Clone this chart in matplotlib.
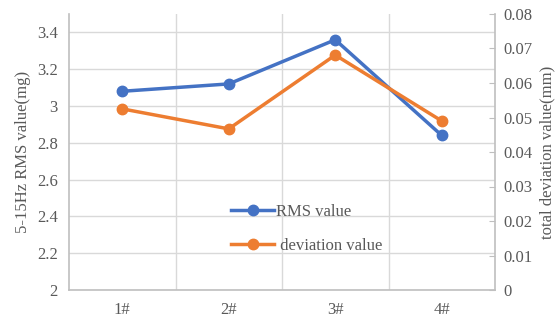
import numpy as np
import matplotlib.pyplot as plt

cats = ["1#", "2#", "3#", "4#"]
rms = [3.08, 3.12, 3.36, 2.84]
dev = [0.0525, 0.0467, 0.0681, 0.0490]
left_ticks = [2, 2.2, 2.4, 2.6, 2.8, 3, 3.2, 3.4]
left_labels = ["2", "2.2", "2.4", "2.6", "2.8", "3", "3.2", "3.4"]
right_ticks = [0, 0.01, 0.02, 0.03, 0.04, 0.05, 0.06, 0.07, 0.08]
right_labels = ["0", "0.01", "0.02", "0.03", "0.04", "0.05", "0.06", "0.07", "0.08"]

plt.rcParams['font.family'] = ['Liberation Serif', 'DejaVu Serif']
txt = '#595959'
grid = '#d9d9d9'
spine = '#bfbfbf'

fig = plt.figure(figsize=(5.58, 3.19), dpi=100)
ax = fig.add_axes([69/558, 1-290/319, (495-69)/558, (290-14)/319])
x = np.arange(len(cats))

ax.set_xlim(-0.5, 3.5)
ax.set_ylim(2, 3.5)
ax.set_yticks(left_ticks)
ax.set_yticklabels(left_labels)
ax.set_xticks(x)
ax.set_xticklabels(cats)
ax.tick_params(axis='both', length=0, colors=txt, labelsize=12, pad=8)
ax.tick_params(axis='x', pad=9)
for t in left_ticks:
    ax.axhline(t, color=grid, lw=1, zorder=0)
for v in [0.5, 1.5, 2.5]:
    ax.axvline(v, color=grid, lw=1, zorder=0)
for s in ['top', 'right']:
    ax.spines[s].set_visible(False)
for s in ['left', 'bottom']:
    ax.spines[s].set_color(spine)
    ax.spines[s].set_linewidth(1.2)
ax.set_ylabel("5-15Hz RMS value(mg)", color=txt, fontsize=12, labelpad=4)

l1, = ax.plot(x, rms, color='#4472c4', lw=2.5, marker='o', ms=7.5, zorder=3,
              label="RMS value")

ax2 = ax.twinx()
ax2.set_ylim(0, 0.08)
ax2.set_yticks(right_ticks)
ax2.set_yticklabels(right_labels)
ax2.tick_params(axis='y', direction='in', length=4, color=spine, colors=txt, labelsize=12, pad=6)
ax2.tick_params(axis='y', color=spine)
for s in ['top', 'left', 'bottom']:
    ax2.spines[s].set_visible(False)
ax2.spines['right'].set_color(spine)
ax2.spines['right'].set_linewidth(1.2)
ax2.set_ylabel("total deviation value(mm)", color=txt, fontsize=12, labelpad=5)
l2, = ax2.plot(x, dev, color='#ed7d31', lw=2.5, marker='o', ms=7.5, zorder=3,
               label=" deviation value")

leg = ax2.legend(handles=[l1, l2], loc='lower left', bbox_to_anchor=(0.345, 0.075),
                 frameon=False, fontsize=12, labelspacing=1.1, handlelength=2.6,
                 handletextpad=0.1)
for t in leg.get_texts():
    t.set_color(txt)

fig.savefig("out.png", dpi=100)
